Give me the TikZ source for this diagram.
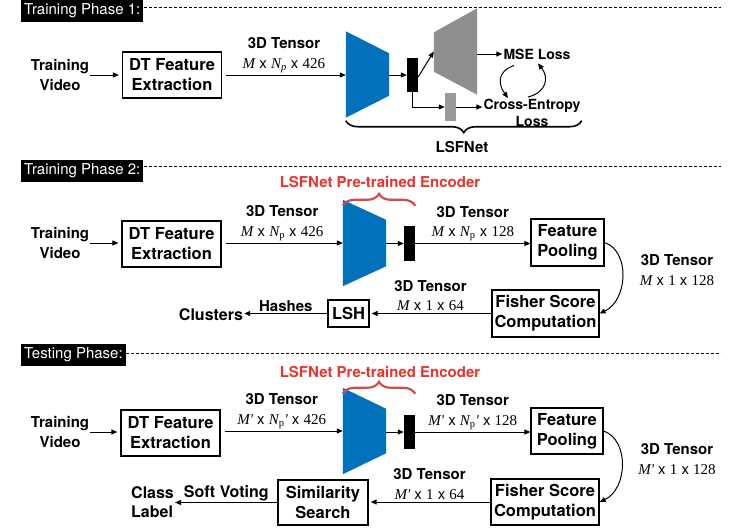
\documentclass[tikz,border=0pt]{standalone}
\usepackage{fontspec}
\setmainfont{TeX Gyre Heros}
\newfontfamily\tms{Liberation Serif}
\usetikzlibrary{arrows.meta,positioning,calc,decorations.pathreplacing}
\definecolor{enccol}{HTML}{0071BA}
\definecolor{deccol}{HTML}{8F8F8F}
\definecolor{redtxt}{HTML}{E8342C}
\definecolor{redbrace}{HTML}{C9504F}
\newcommand\fs{\fontsize{15}{19.5}\selectfont}
\newcommand\fsb{\fontsize{16.5}{20}\selectfont}
\newcommand\fss{\fontsize{14}{17}\selectfont}
\newcommand\vM{{\tms\itshape M}}
\newcommand\vMp{{\tms\itshape M'}}
\newcommand\vN{{\tms\itshape N}}
\newcommand\num[1]{{\tms #1}}

\begin{document}
\begin{tikzpicture}[x=1pt, y=-1pt, font=\fs,
  box/.style={draw, line width=1.2pt, font=\fsb\bfseries, align=center, inner sep=0pt},
  lbl/.style={font=\fs\bfseries, align=center, inner sep=1pt},
  outlbl/.style={font=\fontsize{16}{19.5}\selectfont\bfseries, inner sep=1pt},
  tens/.style={above, align=center, inner sep=2pt, font=\fs},
  phase/.style={fill=black, text=white, anchor=west, font=\fs, inner xsep=3pt, minimum height=22pt},
  net/.style={minimum width=43pt, minimum height=86pt, inner sep=0pt},
  bar/.style={fill=black, minimum width=11pt, inner sep=0pt},
  arr/.style={-{Triangle[length=6pt,width=5pt]}, line width=1pt},
  sep/.style={dash pattern=on 3pt off 2pt, line width=0.8pt},
  curly/.style={decorate, decoration={brace, amplitude=12pt}, line width=1.6pt}]
  \useasboundingbox (0,0) rectangle (747,528);

  % training phase 1
  \node[phase] (ph1) at (21,11) {Training Phase 1:};
  \draw[sep] ([yshift=4pt]ph1.east) -- ++(577,0);
  \node[lbl] (vid1) at (60,75) {Training\\Video};
  \node[box, minimum width=99pt, minimum height=46pt] (dt1) at (172,75) {DT Feature\\Extraction};
  \node[net] (enc1) at (367.5,74.5) {};
  \fill[enccol] (enc1.north west) -- ([yshift=-22pt]enc1.north east) -- ([yshift=22pt]enc1.south east) -- (enc1.south west) -- cycle;
  \node[bar, minimum height=34pt] (bar1) at (412.5,75) {};
  \node[net] (dec1) at (455.5,51.5) {};
  \fill[deccol] ([yshift=-24pt]dec1.north west) -- (dec1.north east) -- (dec1.south east) -- ([yshift=23pt]dec1.south west) -- cycle;
  \node[fill=deccol!90, minimum width=11pt, minimum height=28pt, inner sep=0pt] (cls1) at (450.5,107) {};
  \node[lbl, font=\fss\bfseries] (mse) at (537,54) {MSE Loss};
  \node[lbl, font=\fss\bfseries] (ce) at (532,113) {Cross-Entropy\\Loss};
  \node[lbl] (lsf) at (462,147) {LSFNet};
  \draw[arr, shorten >=3pt] (vid1.east) -- (vid1.east -| dt1.west);
  \draw[arr, shorten <=4pt] (dt1.east) -- node[tens] {\textbf{3D Tensor}\\\vM{} x \vN\textsubscript{\tms\itshape p} x \num{426}} (dt1.east -| enc1.west);
  \draw[arr] (enc1.east |- bar1) -- (bar1.west);
  \draw[arr] ([yshift=-2pt]bar1.east) -- (dec1.west);
  \draw[arr] (dec1.east |- mse) -- (mse.west);
  \draw[arr] (bar1.south) |- (cls1.west);
  \draw[arr] (cls1.east) -- (cls1.east -| ce.west);
  \draw[arr] ([shift={(-23,5)}]mse.south) .. controls +(-17,6) and +(-10,-14) .. ([shift={(-24,0)}]ce.north);
  \draw[arr] ([shift={(-4,-1)}]ce.north) .. controls +(19,-5) and +(11,14) .. ([shift={(1,3)}]mse.south);
  \draw[curly, decoration={mirror}] ([yshift=-3pt]enc1.south west) -- ([yshift=-3pt]enc1.south west -| ce.east);

  % training phase 2
  \node[phase] (ph2) at (21,171) {Training Phase 2:};
  \draw[sep] ([yshift=5pt]ph2.east) -- ++(577,0);
  \node[lbl] (vid2) at (60,243) {Training\\Video};
  \node[box, minimum width=99pt, minimum height=46pt] (dt2) at (171.5,244) {DT Feature\\Extraction};
  \node[net] (enc2) at (364.5,243) {};
  \fill[enccol] (enc2.north west) -- ([yshift=-20pt]enc2.north east) -- ([yshift=20pt]enc2.south east) -- (enc2.south west) -- cycle;
  \node[bar, minimum height=35pt] (bar2) at (409.5,243.5) {};
  \draw[curly, redbrace, line width=2.2pt] ([yshift=-6pt]enc2.north west) -- ([yshift=-6pt]enc2.north west -| bar2.east);
  \node[font=\fs\bfseries, text=redtxt] (pre2) at (380,182) {LSFNet Pre-trained Encoder};
  \node[box, minimum width=73pt, minimum height=47pt] (pool2) at (567.5,242.5) {Feature\\Pooling};
  \node[box, minimum width=107pt, minimum height=47pt] (fish2) at (545.5,313.5) {Fisher Score\\Computation};
  \node[box, minimum width=41pt, minimum height=27pt] (lsh2) at (348.5,313.5) {LSH};
  \node[outlbl] (clu2) at (211,315) {Clusters};
  \node[align=center] (t2c) at (677,270) {\textbf{3D Tensor}\\\vM{} x \num{1} x \num{128}};
  \draw[arr, shorten >=3pt] (vid2.east) -- (vid2.east -| dt2.west);
  \draw[arr, shorten <=4pt] (dt2.east |- enc2) -- node[tens] {\textbf{3D Tensor}\\\vM{} x \vN\textsubscript{\tms p} x \num{426}} (enc2.west);
  \draw[arr] (enc2.east |- bar2) -- (bar2.west);
  \draw[arr] (bar2.east) -- node[tens] {\textbf{3D Tensor}\\\vM{} x \vN\textsubscript{\tms p} x \num{128}} (bar2.east -| pool2.west);
  \draw[arr] (pool2.east) .. controls +(26,9) and +(28,-13) .. (fish2.east);
  \draw[arr, shorten >=2pt] (fish2.west) -- node[tens] {\textbf{3D Tensor}\\\vM{} x \num{1} x \num{64}} (lsh2.east);
  \draw[arr] (lsh2.west) -- node[lbl, above] {Hashes} (lsh2.west -| clu2.east);

  % testing phase
  \node[phase] (ph3) at (21,355) {Testing Phase:};
  \draw[sep] ([yshift=2pt]ph3.east) -- ++(595,0);
  \node[lbl] (vid3) at (60,432) {Training\\Video};
  \node[box, minimum width=99pt, minimum height=46pt] (dt3) at (170.5,433) {DT Feature\\Extraction};
  \node[net] (enc3) at (364.5,431) {};
  \fill[enccol] (enc3.north west) -- ([yshift=-21pt]enc3.north east) -- ([yshift=21pt]enc3.south east) -- (enc3.south west) -- cycle;
  \node[bar, minimum height=34pt] (bar3) at (409.5,432) {};
  \draw[curly, redbrace, line width=2.2pt] ([yshift=-6pt]enc3.north west) -- ([yshift=-6pt]enc3.north west -| bar3.east);
  \node[font=\fs\bfseries, text=redtxt] (pre3) at (380,372) {LSFNet Pre-trained Encoder};
  \node[box, minimum width=72pt, minimum height=46pt] (pool3) at (567,431) {Feature\\Pooling};
  \node[box, minimum width=108pt, minimum height=46pt] (fish3) at (545,502) {Fisher Score\\Computation};
  \node[box, minimum width=90pt, minimum height=45pt] (sim3) at (323,502.5) {Similarity\\Search};
  \node[outlbl, align=left, anchor=west] (cls3) at (130,502) {Class\\Label};
  \node[align=center] (t3c) at (677,459) {\textbf{3D Tensor}\\\vMp{} x \num{1} x \num{128}};
  \draw[arr, shorten >=3pt] (vid3.east) -- (vid3.east -| dt3.west);
  \draw[arr, shorten <=4pt] (dt3.east |- enc3) -- node[tens] {\textbf{3D Tensor}\\\vMp{} x \vN\textsubscript{\tms p}{\tms\itshape '} x \num{426}} (enc3.west);
  \draw[arr] (enc3.east |- bar3) -- (bar3.west);
  \draw[arr] (bar3.east) -- node[tens] {\textbf{3D Tensor}\\\vMp{} x \vN\textsubscript{\tms p}{\tms\itshape '} x \num{128}} (bar3.east -| pool3.west);
  \draw[arr] (pool3.east) .. controls +(26,9) and +(28,-13) .. (fish3.east);
  \draw[arr, shorten >=2pt] (fish3.west) -- node[tens] {\textbf{3D Tensor}\\\vMp{} x \num{1} x \num{64}} (fish3.west -| sim3.east);
  \draw[arr] (sim3.west) -- node[outlbl, above] {Soft Voting} (sim3.west -| cls3.east);
\end{tikzpicture}
\end{document}
